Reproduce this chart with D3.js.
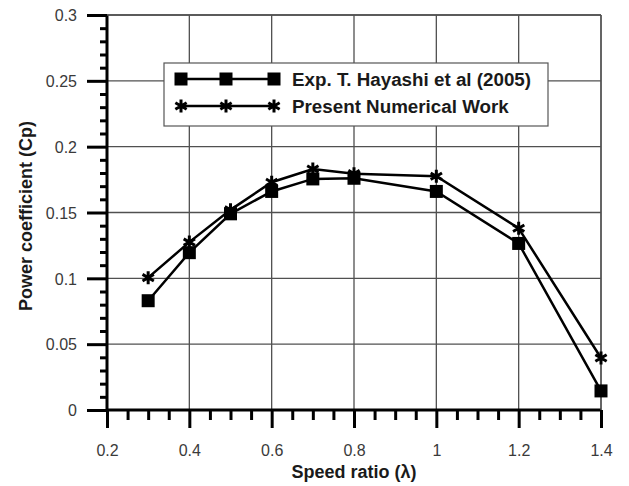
<!DOCTYPE html>
<html>
<head>
<meta charset="utf-8">
<script src="https://cdn.jsdelivr.net/npm/d3@7"></script>
<style>
  body { margin: 0; background: #fff; }
  svg { font-family: "Liberation Sans", Arial, sans-serif; }
</style>
</head>
<body>
<div id="chart"></div>
<script>
// speed ratio values
const lambda = [0.3, 0.4, 0.5, 0.6, 0.7, 0.8, 1.0, 1.2, 1.4];
// Exp. T. Hayashi et al (2005)
const cpExp = [0.083, 0.1195, 0.149, 0.166, 0.1755, 0.176, 0.166, 0.1265, 0.0145];
// Present Numerical Work
const cpNum = [0.1005, 0.1275, 0.152, 0.173, 0.183, 0.1795, 0.1775, 0.138, 0.0395];
const xTicks = [0.2, 0.4, 0.6, 0.8, 1, 1.2, 1.4];
const yTicks = [0, 0.05, 0.1, 0.15, 0.2, 0.25, 0.3];
const seriesNames = ["Exp. T. Hayashi et al (2005)", "Present Numerical Work"];

const W = 629, H = 486;
const margin = {top: 15, right: 28, bottom: 76, left: 107};
const width = W - margin.left - margin.right,
      height = H - margin.top - margin.bottom;

const svg = d3.select("#chart").append("svg")
    .attr("width", W).attr("height", H);
const g = svg.append("g")
    .attr("transform", "translate(" + margin.left + "," + margin.top + ")");

const x = d3.scaleLinear().domain([0.2, 1.4]).range([0, width]);
const y = d3.scaleLinear().domain([0, 0.3]).range([height, 0]);

const gridColor = "#505050";

// grid
g.append("g").selectAll("line").data(xTicks.slice(1)).enter().append("line")
    .attr("x1", d => x(d)).attr("x2", d => x(d))
    .attr("y1", 0).attr("y2", height)
    .attr("stroke", gridColor).attr("stroke-width", 1.3);
g.append("g").selectAll("line").data(yTicks.slice(1)).enter().append("line")
    .attr("x1", 0).attr("x2", width)
    .attr("y1", d => y(d)).attr("y2", d => y(d))
    .attr("stroke", gridColor).attr("stroke-width", 1.3);

// minor ticks
const xMinor = d3.range(0.25, 1.4, 0.05).filter(v => Math.abs(v * 5 - Math.round(v * 5)) > 0.01);
const yMinor = d3.range(0.01, 0.3, 0.01).filter(v => Math.abs(v * 20 - Math.round(v * 20)) > 0.01);

const xAxis = g.append("g").attr("transform", "translate(0," + height + ")");
xAxis.append("g").call(d3.axisBottom(x).tickValues(xMinor).tickSize(10).tickFormat(""));
xAxis.append("g").attr("class", "major").call(d3.axisBottom(x).tickValues(xTicks).tickSize(18).tickFormat(d3.format("")));

const yAxis = g.append("g");
yAxis.append("g").call(d3.axisLeft(y).tickValues(yMinor).tickSize(7).tickFormat(""));
yAxis.append("g").attr("class", "major").call(d3.axisLeft(y).tickValues(yTicks).tickSize(20).tickFormat(d3.format("")));

svg.selectAll(".domain").remove();
svg.selectAll(".tick line").attr("stroke", "#000").attr("stroke-width", 3);
svg.selectAll(".tick text").attr("font-size", 16).attr("fill", "#3a3a3a");
xAxis.selectAll(".tick text").attr("y", 46).attr("dy", 0);
yAxis.selectAll(".tick text").attr("x", -30).attr("dy", "0.36em");

// axis lines
g.append("line").attr("x1", 0).attr("x2", width).attr("y1", height).attr("y2", height)
    .attr("stroke", "#000").attr("stroke-width", 3);
g.append("line").attr("x1", 0).attr("x2", 0).attr("y1", height).attr("y2", 0)
    .attr("stroke", "#000").attr("stroke-width", 3);

// frame top/right
g.append("line").attr("x1", 0).attr("x2", width).attr("y1", 0).attr("y2", 0)
    .attr("stroke", gridColor).attr("stroke-width", 1.3);
g.append("line").attr("x1", width).attr("x2", width).attr("y1", 0).attr("y2", height)
    .attr("stroke", gridColor).attr("stroke-width", 1.3);

const line = d3.line().x(d => x(d[0])).y(d => y(d[1]));
const exp = lambda.map((l, i) => [l, cpExp[i]]);
const num = lambda.map((l, i) => [l, cpNum[i]]);

const star = d3.symbol().type(d3.symbolAsterisk).size(120);
function drawStar(sel) {
  sel.append("path").attr("d", star).attr("fill", "none")
    .attr("stroke", "#000").attr("stroke-width", 3);
}

g.append("path").datum(num).attr("d", line)
    .attr("fill", "none").attr("stroke", "#000").attr("stroke-width", 2.5);
g.append("path").datum(exp).attr("d", line)
    .attr("fill", "none").attr("stroke", "#000").attr("stroke-width", 2.5);

g.selectAll(".sq").data(exp).enter().append("rect")
    .attr("x", d => x(d[0]) - 6.5).attr("y", d => y(d[1]) - 6.5)
    .attr("width", 13).attr("height", 13).attr("fill", "#000");
g.selectAll(".st").data(num).enter().append("g")
    .attr("transform", d => "translate(" + x(d[0]) + "," + y(d[1]) + ")")
    .call(drawStar);

// legend
const leg = svg.append("g").attr("transform", "translate(164,63)");
leg.append("rect").attr("width", 384).attr("height", 63)
    .attr("fill", "#fff").attr("stroke", "#555").attr("stroke-width", 1.2);
const lx = [17, 62, 110];
[0, 1].forEach(i => {
  const yy = i === 0 ? 16 : 43;
  leg.append("line").attr("x1", lx[0]).attr("x2", lx[2]).attr("y1", yy).attr("y2", yy)
      .attr("stroke", "#000").attr("stroke-width", 2.5);
  lx.forEach(px => {
    if (i === 0) {
      leg.append("rect").attr("x", px - 6.5).attr("y", yy - 6.5)
          .attr("width", 13).attr("height", 13).attr("fill", "#000");
    } else {
      leg.append("g").attr("transform", "translate(" + px + "," + yy + ")").call(drawStar);
    }
  });
  leg.append("text").attr("x", 128).attr("y", yy + 6.5)
      .attr("font-size", 18.8).attr("font-weight", "bold").attr("fill", "#1a1a1a")
      .text(seriesNames[i]);
});

// axis titles
svg.append("text").attr("x", margin.left + width / 2).attr("y", 478)
    .attr("text-anchor", "middle").attr("font-size", 18).attr("font-weight", "bold")
    .attr("fill", "#1a1a1a").text("Speed ratio (λ)");
svg.append("text").attr("transform", "translate(32,216) rotate(-90)")
    .attr("text-anchor", "middle").attr("font-size", 18).attr("font-weight", "bold")
    .attr("fill", "#1a1a1a").text("Power coefficient (Cp)");
</script>
</body>
</html>
